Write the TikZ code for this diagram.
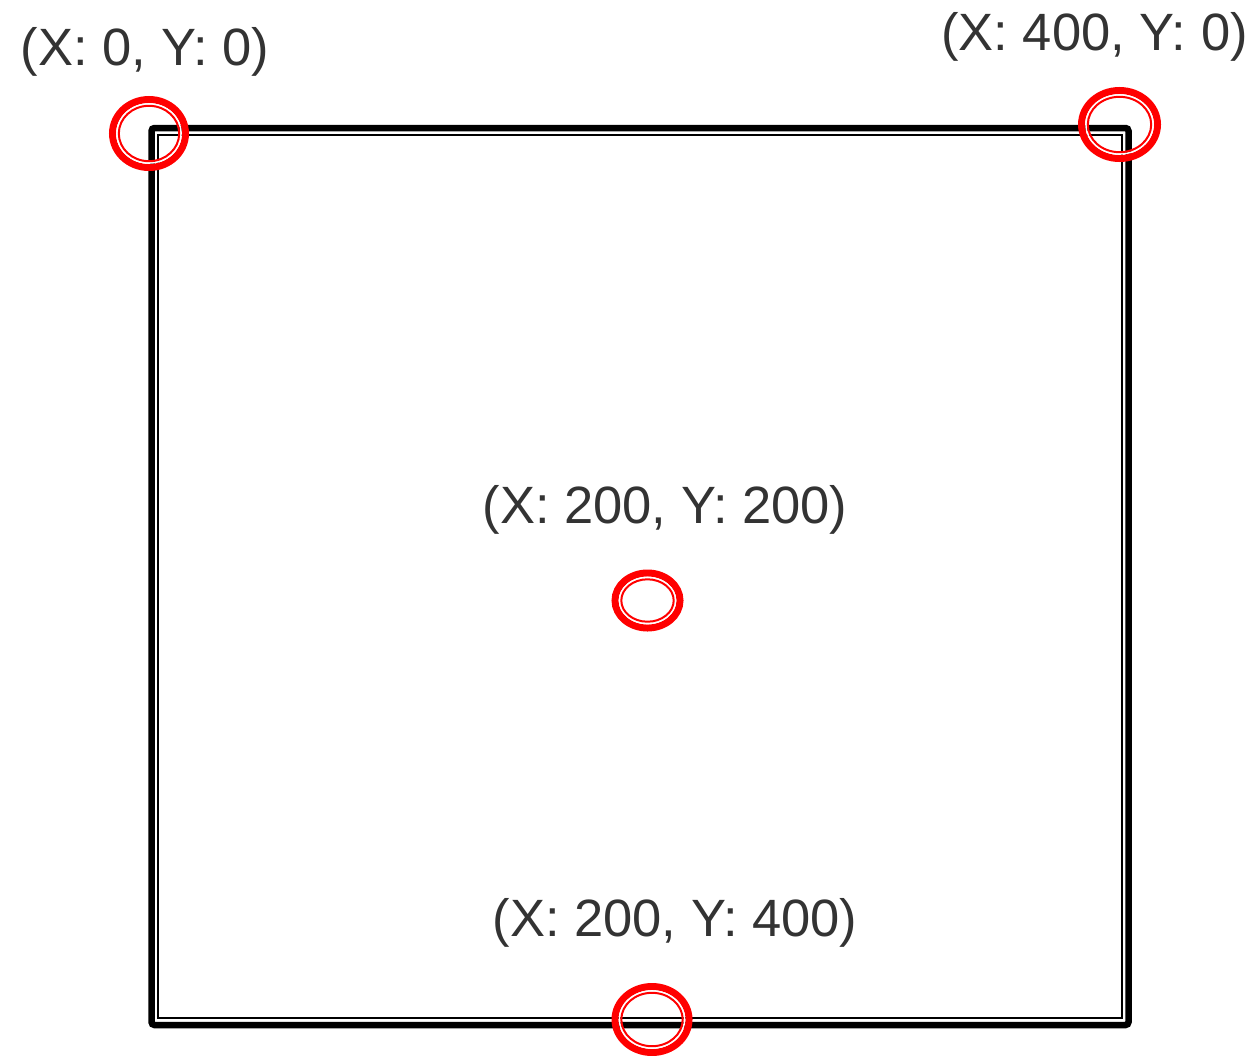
\documentclass[tikz,border=0pt]{standalone}
\usepackage{fontspec}
\setmainfont{Liberation Sans}
\definecolor{txt}{HTML}{333333}
\begin{document}
\begin{tikzpicture}[x=1pt,y=-1pt,
 lbl/.style={text=txt,font=\fontsize{52.5}{60}\selectfont,anchor=base,inner sep=0pt},
 ringouter/.style={draw=red,line width=7pt},
 ringinner/.style={draw=red,line width=2pt},
 gap/.style={draw=white,line width=1.6pt}]
\useasboundingbox (0,0) rectangle (1260,1055);
\draw[line width=6.5pt, rounded corners=3pt] (151.5,128) rectangle (1128.5,1025);
\draw[line width=2pt] (158,135) rectangle (1122,1018);
% corner markers
\coordinate (p00) at (149,133.5);
\coordinate (p40) at (1119.5,124.5);
\coordinate (p22) at (647.5,600.5);
\coordinate (p24) at (652,1019.5);
\foreach \c/\rx/\ry in {p00/36.5/34, p40/38/34, p22/32.5/27.5, p24/37/33} {
  \draw[ringouter] (\c) ellipse [x radius=\rx, y radius=\ry];
  \draw[gap] (\c) ellipse [x radius=\rx-4.5, y radius=\ry-4.5];
  \draw[ringinner] (\c) ellipse [x radius=\rx-6.3, y radius=\ry-6.3];
}
\node[lbl] (t00) at (145,65) {(X: 0, Y: 0)};
\node[lbl] (t40) at (1094.5,50) {(X: 400, Y: 0)};
\node[lbl] (t22) at (665,523) {(X: 200, Y: 200)};
\node[lbl] (t24) at (675,936) {(X: 200, Y: 400)};
\end{tikzpicture}
\end{document}
